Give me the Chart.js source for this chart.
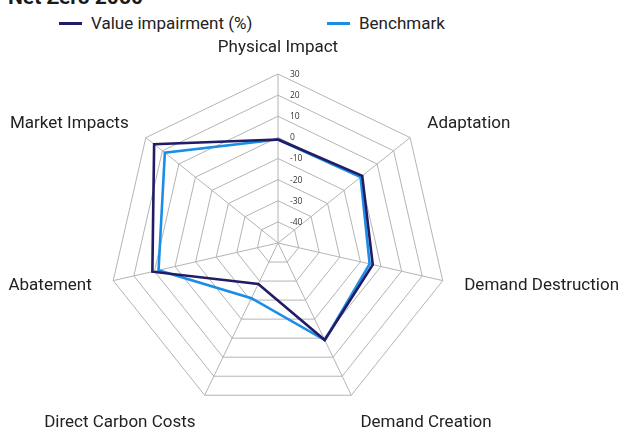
<!DOCTYPE html>
<html>
<head>
<meta charset="utf-8">
<script src="https://cdn.jsdelivr.net/npm/chart.js@4/dist/chart.umd.min.js"></script>
<style>
html,body{margin:0;padding:0;background:#fff;overflow:hidden}
#wrap{position:relative;width:621px;height:430px;overflow:hidden;background:#fff}
#title{position:absolute;left:8px;top:-13px;font:bold 21px Roboto;line-height:21px;color:#1a1a1a;white-space:nowrap}
.lg{position:absolute;top:13px;height:20px;font:17px Roboto;line-height:20px;color:#222;white-space:nowrap}
.lg i{position:absolute;top:9px;height:2.5px;width:23px}
.lg span{position:absolute;left:32px;top:0}
canvas{position:absolute;left:0;top:0}
</style>
</head>
<body>
<div id="wrap">
  <div id="title">Net Zero 2050</div>
  <div class="lg" id="lg0" style="left:59px"><i></i><span></span></div>
  <div class="lg" id="lg1" style="left:327px"><i></i><span></span></div>
  <canvas id="c" width="621" height="430"></canvas>
</div>
<script>
const categories = ['Physical Impact','Adaptation','Demand Destruction','Demand Creation','Direct Carbon Costs','Abatement','Market Impacts'];
const valueImpairment = [-1, 1, -4, 1, -28.5, 11, 25];
const benchmark = [-1, 0, -5.5, 1, -21, 8, 18.5];
const seriesNames = ['Value impairment (%)', 'Benchmark'];
const seriesColors = ['#201c66', '#1a8de6'];
const tickValues = [-50, -40, -30, -20, -10, 0, 10, 20, 30];

// HTML legend
[0,1].forEach(k => {
  const el = document.getElementById('lg' + k);
  el.querySelector('i').style.background = seriesColors[k];
  el.querySelector('span').textContent = seriesNames[k];
});

// tick labels, drawn to the right of the vertical spoke
const tickLabelPlugin = {
  id: 'tickLabels',
  beforeDatasetsDraw(chart) {
    const s = chart.scales.r;
    const ctx = chart.ctx;
    ctx.save();
    ctx.font = '8.5px "Open Sans"';
    ctx.fillStyle = '#333';
    ctx.textAlign = 'left';
    ctx.textBaseline = 'middle';
    s.ticks.forEach((t, i) => {
      if (i === 0) return;
      const d = s.getDistanceFromCenterForValue(t.value);
      ctx.fillText(String(t.value), s.xCenter + 12, s.yCenter - d + 0.5);
    });
    ctx.restore();
  }
};

// category labels placed at the spoke ends
const pointLabelPlugin = {
  id: 'catLabels',
  afterDraw(chart) {
    const s = chart.scales.r;
    const ctx = chart.ctx;
    const labels = chart.data.labels;
    ctx.save();
    ctx.font = '17px Roboto';
    ctx.fillStyle = '#222';
    labels.forEach((lab, i) => {
      const a = s.getIndexAngle(i);
      const deg = (a * 180 / Math.PI) % 360;
      const cos = Math.cos(a);
      let gap = 22, base = 'middle', align;
      if (deg < 1 || deg > 359) { align = 'center'; gap = 26; }
      else { align = deg < 180 ? 'left' : 'right'; }
      if (cos < -0.8) { base = 'top'; gap = 21; }
      const p = s.getPointPosition(i, s.drawingArea + gap);
      ctx.textAlign = align;
      ctx.textBaseline = base;
      ctx.fillText(lab, p.x, p.y);
    });
    ctx.restore();
  }
};

new Chart(document.getElementById('c'), {
  type: 'radar',
  data: {
    labels: categories,
    datasets: [
      { label: seriesNames[0], data: valueImpairment, borderColor: seriesColors[0], backgroundColor: seriesColors[0], borderWidth: 2.6, pointRadius: 0, fill: false, tension: 0 },
      { label: seriesNames[1], data: benchmark, borderColor: seriesColors[1], backgroundColor: seriesColors[1], borderWidth: 2.6, pointRadius: 0, fill: false, tension: 0 }
    ]
  },
  options: {
    responsive: false,
    animation: false,
    devicePixelRatio: 1,
    layout: { padding: { top: 74, bottom: 18, left: 0, right: 65 } },
    plugins: { legend: { display: false }, tooltip: { enabled: false } },
    scales: {
      r: {
        min: tickValues[0],
        max: tickValues[tickValues.length - 1],
        ticks: { stepSize: 10, display: false },
        grid: { color: '#b4b4b4', lineWidth: 1 },
        angleLines: { color: '#b4b4b4', lineWidth: 1 },
        pointLabels: { display: false }
      }
    }
  },
  plugins: [tickLabelPlugin, pointLabelPlugin]
});
</script>
</body>
</html>
